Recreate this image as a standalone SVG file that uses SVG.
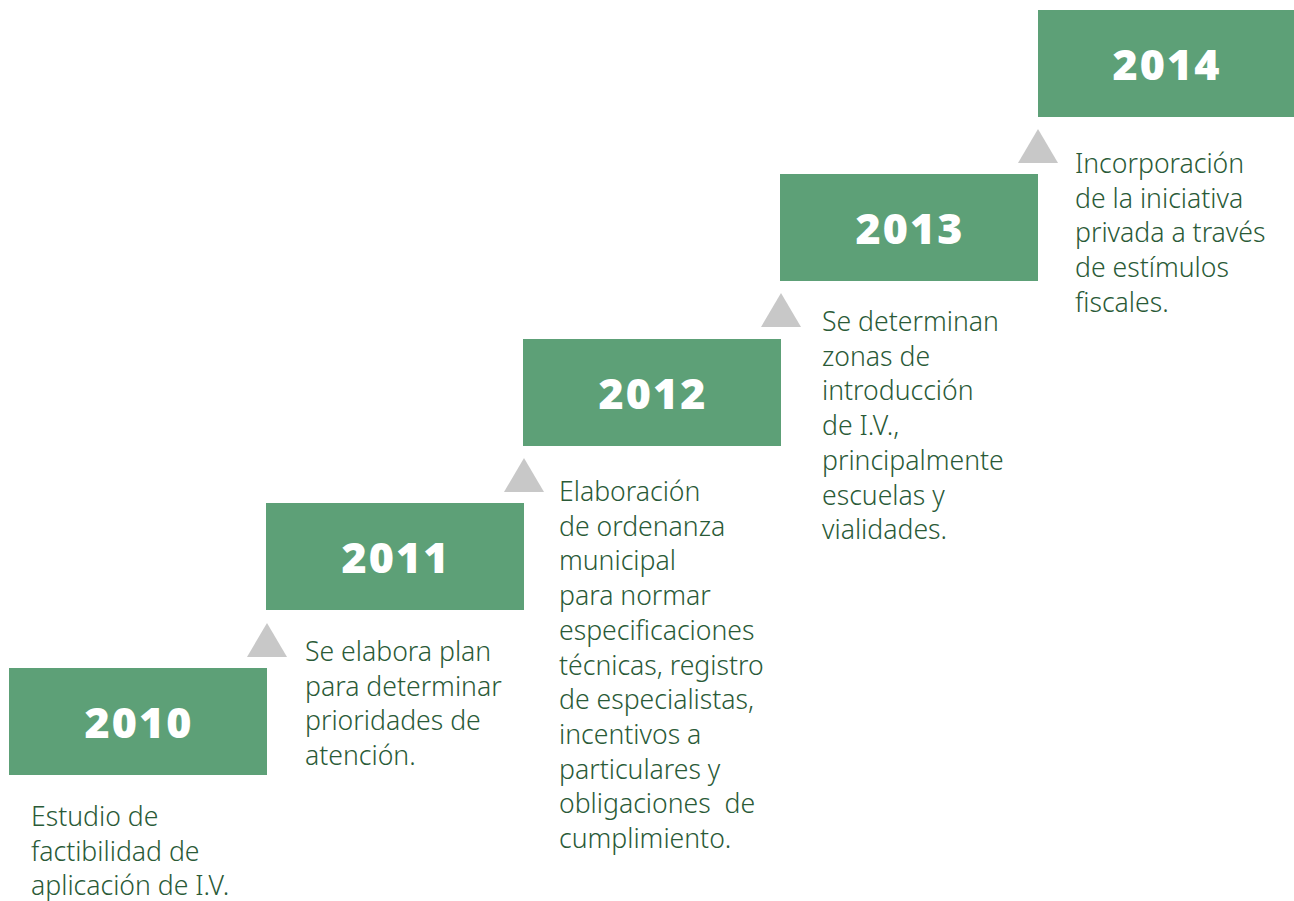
<svg xmlns="http://www.w3.org/2000/svg" width="1294" height="901" viewBox="0 0 1294 901">
<style>
.box{fill:#5da077}
.yr{font-family:"Noto Sans","Liberation Sans",sans-serif;font-weight:900;font-size:43px;fill:#ffffff;text-anchor:middle;letter-spacing:2px}
.tri{fill:#c8c8c8}
.txt{font-family:"Noto Sans","Liberation Sans",sans-serif;font-weight:300;font-size:26.6px;fill:#2a5a37}
</style>
<rect width="1294" height="901" fill="#ffffff"/>
<g id="connectors">
<polygon class="tri" points="267,623 247,657 287,657"/>
<polygon class="tri" points="524,458 504,492 544,492"/>
<polygon class="tri" points="781,293 761,327 801,327"/>
<polygon class="tri" points="1038,129 1018,163 1058,163"/>
</g>
<g id="n2010">
<rect class="box" x="9" y="668" width="258" height="107"/>
<text class="yr" x="139" y="738">2010</text>
<text class="txt" x="31" y="826"><tspan x="31">Estudio de</tspan><tspan x="31" dy="34.7">factibilidad de</tspan><tspan x="31" dy="34.7">aplicación de I.V.</tspan></text>
</g>
<g id="n2011">
<rect class="box" x="266" y="503" width="258" height="107"/>
<text class="yr" x="396" y="573">2011</text>
<text class="txt" x="305" y="661"><tspan x="305">Se elabora plan</tspan><tspan x="305" dy="34.7">para determinar</tspan><tspan x="305" dy="34.7">prioridades de</tspan><tspan x="305" dy="34.7">atención.</tspan></text>
</g>
<g id="n2012">
<rect class="box" x="523" y="339" width="258" height="107"/>
<text class="yr" x="653" y="409">2012</text>
<text class="txt" x="559" y="501"><tspan x="559">Elaboración</tspan><tspan x="559" dy="34.7">de ordenanza</tspan><tspan x="559" dy="34.7">municipal</tspan><tspan x="559" dy="34.7">para normar</tspan><tspan x="559" dy="34.7">especificaciones</tspan><tspan x="559" dy="34.7">técnicas, registro</tspan><tspan x="559" dy="34.7">de especialistas,</tspan><tspan x="559" dy="34.7">incentivos a</tspan><tspan x="559" dy="34.7">particulares y</tspan><tspan x="559" dy="34.7" xml:space="preserve">obligaciones  de</tspan><tspan x="559" dy="34.7">cumplimiento.</tspan></text>
</g>
<g id="n2013">
<rect class="box" x="780" y="174" width="258" height="107"/>
<text class="yr" x="910" y="244">2013</text>
<text class="txt" x="822" y="331"><tspan x="822">Se determinan</tspan><tspan x="822" dy="34.7">zonas de</tspan><tspan x="822" dy="34.7">introducción</tspan><tspan x="822" dy="34.7">de I.V.,</tspan><tspan x="822" dy="34.7">principalmente</tspan><tspan x="822" dy="34.7">escuelas y</tspan><tspan x="822" dy="34.7">vialidades.</tspan></text>
</g>
<g id="n2014">
<rect class="box" x="1038" y="10" width="256" height="107"/>
<text class="yr" x="1167" y="80">2014</text>
<text class="txt" x="1075" y="173"><tspan x="1075">Incorporación</tspan><tspan x="1075" dy="34.7">de la iniciativa</tspan><tspan x="1075" dy="34.7">privada a través</tspan><tspan x="1075" dy="34.7">de estímulos</tspan><tspan x="1075" dy="34.7">fiscales.</tspan></text>
</g>
</svg>
